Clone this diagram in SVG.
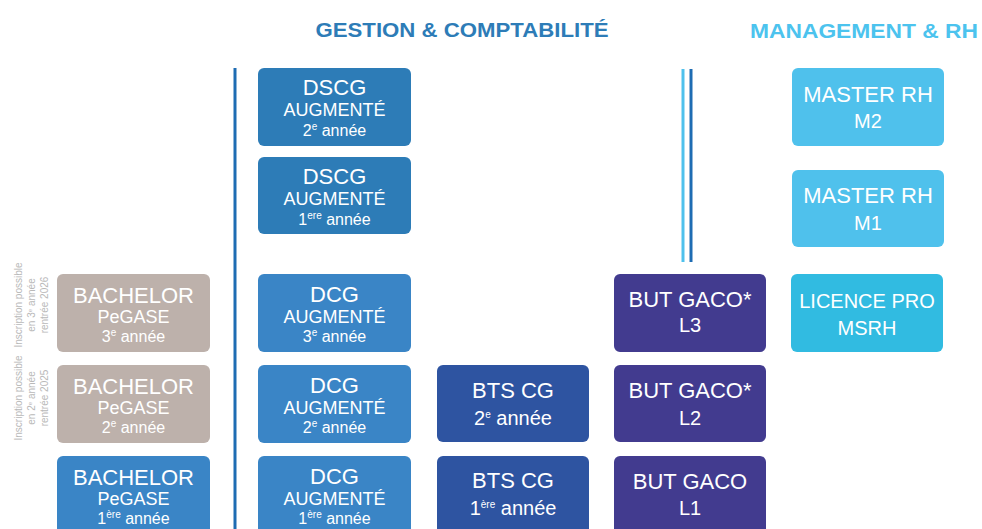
<svg xmlns="http://www.w3.org/2000/svg" width="982" height="529" viewBox="0 0 982 529">
<style>
text{font-family:"Liberation Sans",Arial,sans-serif;fill:#fff;text-anchor:middle}
.t1{font-size:22px}
.t2{font-size:18px}
.t3{font-size:16px}
.b2{font-size:20px}
.sup{font-size:10px}
.side{font-size:10px;fill:#b9b9b9}
.hd{font-size:21px;font-weight:bold}
.grey{fill:#bdb1ab}
.blue{fill:#3a85c6}
.dscg{fill:#2d7cb7}
.bts{fill:#2e54a1}
.but{fill:#423b8f}
.mst{fill:#4fc1ec}
.lic{fill:#31bbe1}
</style>
<rect width="982" height="529" fill="#fff"/>
<text class="hd" x="462" y="37" style="fill:#2d7cb7" textLength="293" lengthAdjust="spacingAndGlyphs">GESTION &amp; COMPTABILITÉ</text>
<text class="hd" x="864" y="38" style="fill:#4cc3ee" textLength="228" lengthAdjust="spacingAndGlyphs">MANAGEMENT &amp; RH</text>

<g id="connectors">
<line x1="235" y1="68" x2="235" y2="529" stroke="#1e6cb3" stroke-width="3"/>
<line x1="683" y1="69" x2="683" y2="262" stroke="#4fc1ec" stroke-width="3"/>
<line x1="691" y1="69" x2="691" y2="262" stroke="#1e6cb3" stroke-width="3"/>
</g>

<g id="note-3e">
<text class="side" transform="translate(22,305) rotate(-90)">Inscription possible</text>
<text class="side" transform="translate(35,305) rotate(-90)">en 3<tspan font-size="6" dy="-3">e</tspan><tspan dy="3"> année</tspan></text>
<text class="side" transform="translate(48,305) rotate(-90)">rentrée 2026</text>
</g>
<g id="note-2e">
<text class="side" transform="translate(22,398) rotate(-90)">Inscription possible</text>
<text class="side" transform="translate(35,398) rotate(-90)">en 2<tspan font-size="6" dy="-3">e</tspan><tspan dy="3"> année</tspan></text>
<text class="side" transform="translate(48,398) rotate(-90)">rentrée 2025</text>
</g>

<g id="bachelor3">
<rect class="grey" x="57" y="274" width="153" height="78" rx="6"/>
<text class="t1" x="133.5" y="303">BACHELOR</text>
<text class="t2" x="133.5" y="323">PeGASE</text>
<text class="t3" x="133.5" y="342">3<tspan class="sup" dy="-6">e</tspan><tspan dy="6"> année</tspan></text>
</g>
<g id="bachelor2">
<rect class="grey" x="57" y="365" width="153" height="78" rx="6"/>
<text class="t1" x="133.5" y="394">BACHELOR</text>
<text class="t2" x="133.5" y="414">PeGASE</text>
<text class="t3" x="133.5" y="433">2<tspan class="sup" dy="-6">e</tspan><tspan dy="6"> année</tspan></text>
</g>
<g id="bachelor1">
<rect class="blue" x="57" y="456" width="153" height="90" rx="6"/>
<text class="t1" x="133.5" y="485">BACHELOR</text>
<text class="t2" x="133.5" y="505">PeGASE</text>
<text class="t3" x="133.5" y="524">1<tspan class="sup" dy="-6">ère</tspan><tspan dy="6"> année</tspan></text>
</g>

<g id="dscg2">
<rect class="dscg" x="258" y="68" width="153" height="78" rx="6"/>
<text class="t1" x="334.5" y="95">DSCG</text>
<text class="t2" x="334.5" y="116">AUGMENTÉ</text>
<text class="t3" x="334.5" y="136">2<tspan class="sup" dy="-6">e</tspan><tspan dy="6"> année</tspan></text>
</g>
<g id="dscg1">
<rect class="dscg" x="258" y="157" width="153" height="77" rx="6"/>
<text class="t1" x="334.5" y="184">DSCG</text>
<text class="t2" x="334.5" y="205">AUGMENTÉ</text>
<text class="t3" x="334.5" y="225">1<tspan class="sup" dy="-6">ere</tspan><tspan dy="6"> année</tspan></text>
</g>

<g id="dcg3">
<rect class="blue" x="258" y="274" width="153" height="78" rx="6"/>
<text class="t1" x="334.5" y="302">DCG</text>
<text class="t2" x="334.5" y="323">AUGMENTÉ</text>
<text class="t3" x="334.5" y="342">3<tspan class="sup" dy="-6">e</tspan><tspan dy="6"> année</tspan></text>
</g>
<g id="dcg2">
<rect class="blue" x="258" y="365" width="153" height="78" rx="6"/>
<text class="t1" x="334.5" y="393">DCG</text>
<text class="t2" x="334.5" y="414">AUGMENTÉ</text>
<text class="t3" x="334.5" y="433">2<tspan class="sup" dy="-6">e</tspan><tspan dy="6"> année</tspan></text>
</g>
<g id="dcg1">
<rect class="blue" x="258" y="456" width="153" height="90" rx="6"/>
<text class="t1" x="334.5" y="484">DCG</text>
<text class="t2" x="334.5" y="505">AUGMENTÉ</text>
<text class="t3" x="334.5" y="524">1<tspan class="sup" dy="-6">ère</tspan><tspan dy="6"> année</tspan></text>
</g>

<g id="bts2">
<rect class="bts" x="437" y="365" width="152" height="77" rx="6"/>
<text class="t1" x="513" y="398">BTS CG</text>
<text class="b2" x="513" y="425">2<tspan class="sup" font-size="12" dy="-7">e</tspan><tspan dy="7"> année</tspan></text>
</g>
<g id="bts1">
<rect class="bts" x="437" y="456" width="152" height="90" rx="6"/>
<text class="t1" x="513" y="488">BTS CG</text>
<text class="b2" x="513" y="515">1<tspan class="sup" font-size="12" dy="-7">ère</tspan><tspan dy="7"> année</tspan></text>
</g>

<g id="but3">
<rect class="but" x="614" y="274" width="152" height="78" rx="6"/>
<text class="t1" x="690" y="307">BUT GACO*</text>
<text class="b2" x="690" y="332">L3</text>
</g>
<g id="but2">
<rect class="but" x="614" y="365" width="152" height="77" rx="6"/>
<text class="t1" x="690" y="398">BUT GACO*</text>
<text class="b2" x="690" y="425">L2</text>
</g>
<g id="but1">
<rect class="but" x="614" y="456" width="152" height="90" rx="6"/>
<text class="t1" x="690" y="489">BUT GACO</text>
<text class="b2" x="690" y="515">L1</text>
</g>

<g id="master2">
<rect class="mst" x="792" y="68" width="152" height="78" rx="6"/>
<text class="t1" x="868" y="102">MASTER RH</text>
<text class="b2" x="868" y="128">M2</text>
</g>
<g id="master1">
<rect class="mst" x="792" y="170" width="152" height="77" rx="6"/>
<text class="t1" x="868" y="203">MASTER RH</text>
<text class="b2" x="868" y="230">M1</text>
</g>
<g id="licence">
<rect class="lic" x="791" y="274" width="152" height="78" rx="6"/>
<text class="b2" x="867" y="308" font-size="19">LICENCE PRO</text>
<text class="b2" x="867" y="335" font-size="19">MSRH</text>
</g>
</svg>
